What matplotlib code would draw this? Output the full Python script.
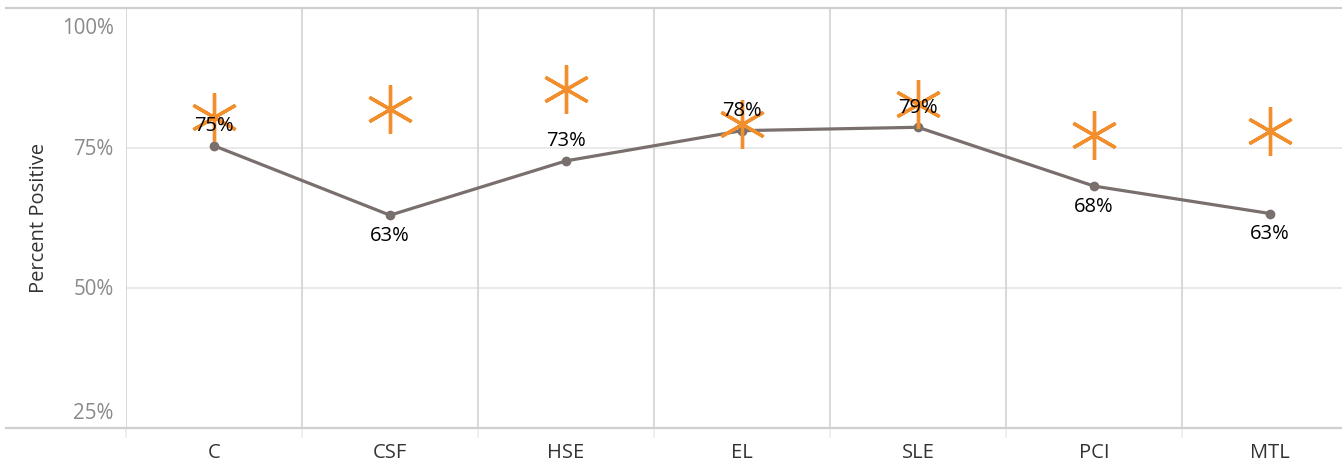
import matplotlib.pyplot as plt
from matplotlib.lines import Line2D
import numpy as np

plt.rcParams['font.family'] = ['Open Sans', 'DejaVu Sans']

categories = ["C", "CSF", "HSE", "EL", "SLE", "PCI", "MTL"]
percent_positive = [75.4, 63.0, 72.7, 78.1, 78.7, 68.2, 63.3]
value_labels = ["75%", "63%", "73%", "78%", "79%", "68%", "63%"]
benchmark = [80.6, 82.0, 85.6, 79.2, 82.9, 77.4, 78.0]
label_above = [True, False, True, True, True, False, False]
y_ticks = [25, 50, 75, 100]
y_ticklabels = ["25%", "50%", "75%", "100%"]

W, H = 1342, 461
fig = plt.figure(figsize=(W / 100, H / 100), dpi=100)
ax = fig.add_axes([126 / W, 33 / H, (W - 126) / W, 420 / H])

x = np.arange(len(categories))
ax.set_xlim(-0.5, 6.5 - 16 / 176)
ax.set_ylim(25, 100)

# grid
for yv in [50, 75]:
    ax.axhline(yv, color='#e6e6e6', lw=1.2, zorder=0)
for k in range(len(categories)):
    ax.axvline(k - 0.5, color='#d6d6d6', lw=1.3, zorder=0)

line_col = '#79706e'
ax.plot(x, percent_positive, color=line_col, lw=2.3, marker='o', ms=6, zorder=3)
ax.plot(x, benchmark, ls='none', marker=(6, 2, 0), ms=35, mew=2.4,
        color='#f28e2b', zorder=4)

for xi, v, lab, up in zip(x, percent_positive, value_labels, label_above):
    off = 14 if up else -15
    ax.annotate(lab, (xi, v), xytext=(0, off), textcoords='offset points',
                ha='center', va='center', fontsize=14.5, color='black', zorder=5)

ax.set_xticks(x)
ax.set_xticklabels(categories, fontsize=14.5, color='#333333')
ax.set_xticks(x - 0.5, minor=True)
ax.tick_params(axis='x', which='major', length=0, pad=11)
ax.tick_params(axis='x', which='minor', length=7, color='#ececec', width=1.2)

# y tick labels (Tableau-style: end labels pulled inside the range)
ax.set_yticks(y_ticks)
ax.set_yticklabels([])
ax.tick_params(axis='y', length=0)
for yv, lab in zip(y_ticks, y_ticklabels):
    dy = -7 if yv == 100 else (3 if yv == 25 else -1)
    va = 'top' if yv == 100 else ('bottom' if yv == 25 else 'center')
    ax.annotate(lab, (-0.5, yv), xytext=(-9, dy), textcoords='offset points',
                ha='right', va=va, fontsize=14.8, color='#8a8a8a',
                annotation_clip=False)

ax.set_ylabel("Percent Positive", fontsize=14.5, color='#333333', labelpad=52)

for s in ax.spines.values():
    s.set_visible(False)

# top and bottom rules spanning into the label area
for yy in [428, 8]:
    fig.add_artist(Line2D([6 / W, 1], [(H - yy) / H] * 2, color='#cfcfcf', lw=1.6,
                          transform=fig.transFigure))

fig.savefig("out.png", dpi=100)
